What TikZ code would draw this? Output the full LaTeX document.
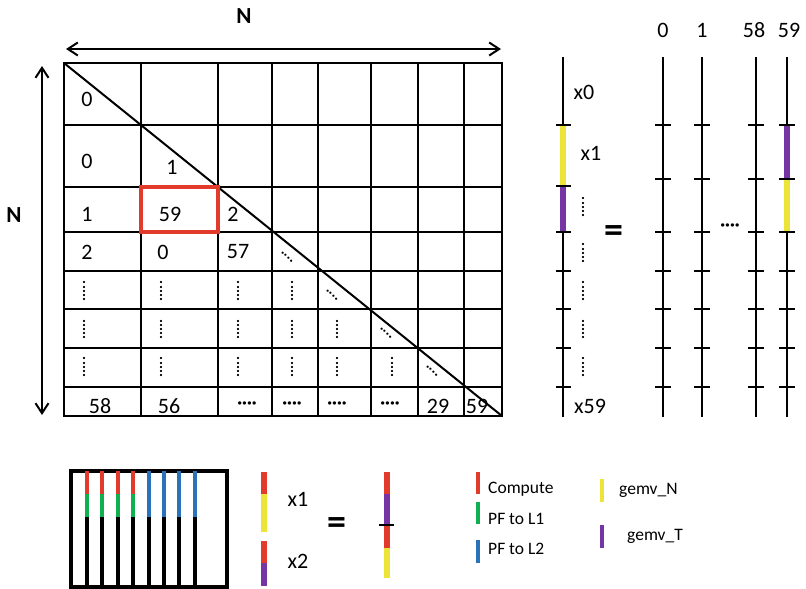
\documentclass[tikz,border=0pt]{standalone}
\usepackage{fontspec}
\setmainfont{Carlito}
\usepackage{xcolor}
\usepackage{tikz}
\usetikzlibrary{arrows.meta}
\usetikzlibrary{positioning}

\definecolor{cred}{HTML}{E33B2B}
\definecolor{cyellow}{HTML}{EDE43A}
\definecolor{cpurple}{HTML}{7535A4}
\definecolor{cgreen}{HTML}{10B050}
\definecolor{cblue}{HTML}{2B73B8}

\begin{document}
\begin{tikzpicture}
  [x=1pt,y=-1pt,
  every node/.style={font=\fontsize{22}{26}\selectfont,inner sep=0pt},
  leg/.style={font=\fontsize{17.5}{20}\selectfont},
  nlbl/.style={font=\fontsize{23}{26}\selectfont\bfseries},
  eqs/.style={font=\fontsize{38}{40}\selectfont\bfseries},
  vdotsty/.style={font=\fontsize{15}{15}\selectfont\bfseries,rotate=90},
  ddotsty/.style={font=\fontsize{15}{15}\selectfont\bfseries,rotate=-45},
  hdotsty/.style={font=\fontsize{18}{18}\selectfont\bfseries},
  gridln/.style={line width=2.4pt},
  vecln/.style={line width=2.4pt},
  segln/.style={line width=5.5pt},
  barln/.style={line width=4pt},
  redbox/.style={cred,line width=4.5pt},
  dimarrow/.style={line width=2pt,{Straight Barb[length=10pt,width=13pt]}-{Straight Barb[length=10pt,width=13pt]}}]

\useasboundingbox (0,0) rectangle (806,589);

\coordinate (ntl) at (66,49);
\coordinate (ntr) at (501,49);
\coordinate (nvt) at (42,66);
\coordinate (nvb) at (42,415);
\draw[dimarrow] (ntl) -- (ntr);
\draw[dimarrow] (nvt) -- (nvb);
\node[nlbl] (ntop)  at (244,16)  {N};
\node[nlbl] (nleft) at (14,215)  {N};

\foreach \x in {141,218,272,318,371,418,464} \draw[gridln] (\x,63) -- (\x,416);
\foreach \y in {125,187,232,271,309,348,387} \draw[gridln] (64,\y) -- (502,\y);
\draw[gridln] (64,63) rectangle (502,416);
\draw[line width=2pt] (64,63) -- (502,416);
\draw[redbox] (141,187) rectangle (218,232);

\node (a11) at (87,99)   {0};
\node (a21) at (87,161)  {0};
\node (a22) at (172,167) {1};
\node (a31) at (87,214)  {1};
\node (a32) at (170,214) {59};
\node (a33) at (233,214) {2};
\node (a41) at (87,252)  {2};
\node (a42) at (163,252) {0};
\node (a43) at (238,252) {57};
\node (a81) at (100,406) {58};
\node (a82) at (169,406) {56};
\node (a87) at (438,406) {29};
\node (a88) at (477,406) {59};
\node[hdotsty] (a83) at (247,405) {····};
\node[hdotsty] (a84) at (292,405) {····};
\node[hdotsty] (a85) at (337,405) {····};
\node[hdotsty] (a86) at (390,405) {····};

\node[vdotsty] (a51) at (84,291)  {.....};
\node[vdotsty] (a52) at (161,291) {.....};
\node[vdotsty] (a53) at (238,291) {.....};
\node[vdotsty] (a54) at (292,291) {.....};
\node[vdotsty] (a61) at (84,329)  {.....};
\node[vdotsty] (a62) at (161,329) {.....};
\node[vdotsty] (a63) at (238,329) {.....};
\node[vdotsty] (a64) at (292,329) {.....};
\node[vdotsty] (a65) at (337,329) {.....};
\node[vdotsty] (a71) at (84,367)  {.....};
\node[vdotsty] (a72) at (161,367) {.....};
\node[vdotsty] (a73) at (238,367) {.....};
\node[vdotsty] (a74) at (292,367) {.....};
\node[vdotsty] (a75) at (337,367) {.....};
\node[vdotsty] (a76) at (392,367) {.....};

\node[ddotsty] (a44) at (287,257) {....};
\node[ddotsty] (a55) at (332,295) {....};
\node[ddotsty] (a66) at (386,333) {....};
\node[ddotsty] (a77) at (432,371) {....};

\draw[vecln] (563,57) -- (563,417);
\draw[segln,cyellow] (563,125) -- (563,186);
\draw[segln,cpurple] (563,186) -- (563,232);
\foreach \y in {125,186,232,271,309,348,387} \draw[vecln] (556,\y) -- (571,\y);
\node (x0)  at (584,92)  {x0};
\node (x1)  at (591,153) {x1};
\node (x59) at (590,406) {x59};
\foreach \y [count=\i] in {207,253,291,329,367} \node[vdotsty] (xd\i) at (583,\y) {.....};

\node[eqs] (eqtop) at (614,234) {=};

\foreach \x in {663,702,756,787} \draw[vecln] (\x,57) -- (\x,417);
\draw[segln,cpurple] (787,125) -- (787,179);
\draw[segln,cyellow] (787,179) -- (787,232);
\foreach \x in {663,702,756,787}
  \foreach \y in {125,179,232,271,309,348,387} \draw[vecln] (\x-8,\y) -- (\x+8,\y);
\node (c0)  at (663,30) {0};
\node (c1)  at (702,30) {1};
\node (c58) at (754,30) {58};
\node (c59) at (789,30) {59};
\node[hdotsty] (cdots) at (730,227) {····};

\draw[line width=4.5pt] (71,471) rectangle (227,587);
\foreach \x in {87,102,118,133} {
  \draw[barln] (\x,471) -- (\x,587);
  \draw[barln,cred] (\x,471) -- (\x,494);
  \draw[barln,cgreen] (\x,494) -- (\x,517);
}
\foreach \x in {149,164,179,195} {
  \draw[barln] (\x,471) -- (\x,587);
  \draw[barln,cblue] (\x,471) -- (\x,517);
}

\draw[segln,cred] (264,472) -- (264,494); \draw[segln,cyellow] (264,494) -- (264,532);
\draw[segln,cred] (264,541) -- (264,563); \draw[segln,cpurple] (264,563) -- (264,586);
\node (bx1) at (298,499) {x1};
\node (bx2) at (298,561) {x2};
\node[eqs] (eqbot) at (337,526) {=};

\draw[segln,cred] (387,472) -- (387,494); \draw[segln,cpurple] (387,494) -- (387,525);
\draw[segln,cred] (387,525) -- (387,548); \draw[segln,cyellow] (387,548) -- (387,578);
\draw[vecln] (379,525) -- (394,525);

\draw[barln,cred] (478,472) -- (478,494);
\draw[barln,cgreen] (478,502) -- (478,524);
\draw[barln,cblue] (478,540) -- (478,563);
\draw[barln,cyellow] (602,479) -- (602,502);
\draw[barln,cpurple] (602,525) -- (602,548);
\node[leg,anchor=base west] (lcomp) at (488,493) {Compute};
\node[leg,anchor=base west] (ll1)   at (488,524) {PF to L1};
\node[leg,anchor=base west] (ll2)   at (488,554) {PF to L2};
\node[leg,anchor=base west] (lgn)   at (619,494) {gemv\_N};
\node[leg,anchor=base west] (lgt)   at (627,540) {gemv\_T};
\end{tikzpicture}
\end{document}
